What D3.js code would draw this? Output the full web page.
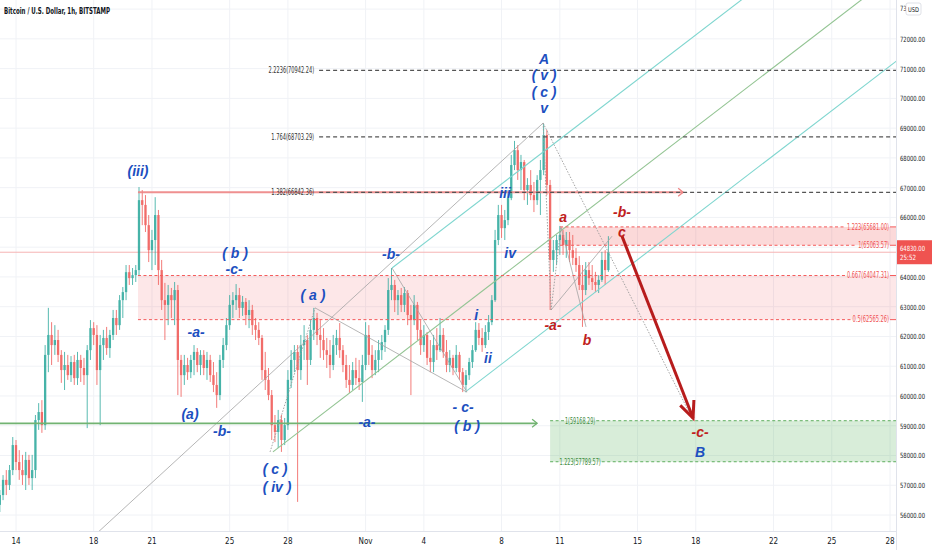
<!DOCTYPE html>
<html>
<head>
<meta charset="utf-8">
<script src="https://cdn.jsdelivr.net/npm/d3@7"></script>
<style>
body { margin: 0; background: #fff; }
svg { display: block; font-family: "Liberation Sans Narrow", "DejaVu Sans Condensed", "Liberation Sans", sans-serif; }
.ew { font-family: "Liberation Sans", Arial, sans-serif; font-style: italic; font-weight: bold; font-size: 14px; }
</style>
</head>
<body>
<script>
// 4h candles, first one opens Oct 13 04:00
var opens = [
 56340,56670,57180,57010,57510,58350, 57780,57510,57340,57850,57240,57510,
 59190,59460,59020,61380,62050,61710, 61880,61380,60870,61040,60700,61140,
 60600,61210,60940,60700,61540,62280, 62050,60870,61710,61950,61610,62050,
 62620,62380,63220,63490,64160,63960, 64060,64230,66580,66420,65740,64900,
 65240,66080,64230,63220,63060,63390, 63220,63560,61210,60700,61040,60800,
 61210,61480,61040,61380,60940,61210, 60700,60370,60030,61210,61710,62380,
 63060,63220,63390,62960,63160,62720, 62890,62380,62220,61950,60870,60540,
 60030,59020,58790,59190,58520,59020, 60540,61210,61480,60870,61710,61880,
 61210,62220,62620,62050,61880,61540, 61380,61040,61710,61950,61540,61040,
 60540,60370,60870,60600,60470,61040, 62050,61380,60870,61210,61540,61810,
 62220,63560,63730,63220,63390,63060, 63460,62720,62550,63060,62220,61710,
 62050,61280,61140,61710,61540,62050, 61480,61040,61280,60940,61380,60800,
 60370,60700,61140,61540,62220,61950, 61710,62150,62480,63220,65240,66080,
 65640,65910,66650,67760,68260,67590, 67860,66920,67090,66750,66580,67260,
 67590,68770,67090,64570,64900,65240, 65410,65070,65240,64900,64640,64400,
 63730,63560,64230,63960,63830,63730, 63900,64570,64230
];
var highs = [
 56840,57340,57510,57680,58620,58520, 58180,58020,58120,58020,58020,59360,
 59760,59860,61710,62960,62480,62380, 62220,61540,61480,61380,61340,61380,
 61480,61380,61280,61710,62550,62480, 62380,62050,62220,62320,62220,62890,
 62890,63390,63660,64400,64400,64300, 64400,67020,66920,66750,66080,65580,
 66680,66250,64570,63800,63730,63630, 63830,63730,61380,61380,61280,61380,
 61710,61610,61540,61540,61480,61380, 61140,60800,61380,61950,62620,63390,
 63490,63760,63630,63360,63290,63220, 63060,62620,62480,62050,61480,60940,
 60200,59360,59530,59360,59260,60870, 61540,61710,61710,62050,62380,62050,
 62550,62960,62790,62550,62280,61950, 61880,62050,62220,62450,61710,61380,
 61040,61140,61280,61210,61380,62480, 62380,61710,61540,61880,62050,62380,
 63960,64300,63900,63560,63630,63660, 63560,63060,63390,63160,62550,62380,
 62150,61880,62050,62280,62620,62280, 61880,61540,61380,61710,61480,60940,
 60870,61280,61710,62480,62450,62280, 62380,62720,63390,65580,66420,66420,
 66250,66920,68100,68570,68430,68100, 67930,67320,67590,67190,67420,67930,
 69140,68940,67260,65240,65410,65710, 65580,65510,65510,65410,64970,64700,
 64400,64500,64500,64400,64170,64060, 64840,64900,65370
];
var lows = [
 56100,56500,56670,56840,57340,57510, 57180,57010,56840,57010,56840,57240,
 58860,58760,58860,60800,61040,61380, 61140,60440,60200,60540,60470,60370,
 60370,60470,60370,58920,61210,61710, 60370,59020,61210,61380,61280,61880,
 62050,62220,62620,63220,63730,63730, 63830,64060,65740,65510,64500,64230,
 64400,63730,62890,61880,62380,62620, 62380,60030,59970,60370,60540,60600,
 60700,60800,60700,60700,60540,60470, 60130,59600,59860,60940,61540,62220,
 62620,62890,62620,62690,62380,62280, 62050,61880,61710,60540,60200,59860,
 58520,58450,58250,58120,58350,58860, 60270,60800,56440,60540,61210,60370,
 61040,61880,61710,61280,61210,60940, 60600,60870,61380,61280,60800,60270,
 60100,60200,60370,60200,59800,60870, 61040,60600,60700,60800,61210,61480,
 62050,63220,62820,62720,62820,62820, 62380,60030,62380,61880,61380,61480,
 61040,60800,60800,61210,61480,61280, 60800,60800,60700,60800,60540,60130,
 60200,60540,60940,61480,61710,61480, 61610,61880,62380,63160,65070,65310,
 65240,65740,66580,67590,67260,66920, 66580,66420,66580,66180,66420,66080,
 67420,66750,62890,64170,64400,64740, 64740,64640,64500,64400,64170,63560,
 62320,63390,63730,63560,63490,63460, 63830,63730,64170
];
var closes = [
 56670,57180,57010,57510,58350,57780, 57510,57340,57850,57240,57510,59190,
 59460,59020,61380,62050,61710,61880, 61380,60870,61040,60700,61140,60600,
 61210,60940,60700,61540,62280,62050, 60870,61710,61950,61610,62050,62620,
 62380,63220,63490,64160,63960,64060, 64230,66580,66420,65740,64900,65240,
 66080,64230,63220,63060,63390,63220, 63560,61210,60700,61040,60800,61210,
 61480,61040,61380,60940,61210,60700, 60370,60030,61210,61710,62380,63060,
 63220,63390,62960,63160,62720,62890, 62380,62220,61950,60870,60540,60030,
 59020,58790,59190,58520,59020,60540, 61210,61480,60870,61710,61880,61210,
 62220,62620,62050,61880,61540,61380, 61040,61710,61950,61540,61040,60540,
 60370,60870,60600,60470,61040,62050, 61380,60870,61210,61540,61810,62220,
 63560,63730,63220,63390,63060,63460, 62720,62550,63060,62220,61710,62050,
 61280,61140,61710,61540,62050,61480, 61040,61280,60940,61380,60800,60370,
 60700,61140,61540,62220,61950,61710, 62150,62480,63220,65240,66080,65640,
 65910,66650,67760,68260,67590,67860, 66920,67090,66750,66580,67260,67590,
 68770,67090,64570,64900,65240,65410, 65070,65240,64900,64640,64400,63730,
 63560,64230,63960,63830,63730,63900, 64570,64230,64830
];

// date axis
var tickDates = ["2021-10-14","2021-10-18","2021-10-21","2021-10-25","2021-10-28","2021-11-01","2021-11-04",
                 "2021-11-08","2021-11-11","2021-11-15","2021-11-18","2021-11-22","2021-11-25","2021-11-28"];
var tickLabels = ["14","18","21","25","28","Nov","4","8","11","15","18","22","25","28"];
var priceTicks = [56000,57000,58000,59000,60000,61000,62000,63000,64000,65000,66000,67000,68000,69000,70000,71000,72000];
var topTick = 73000;
var lastPrice = 64830;

// fib levels [ratio, price]
var fibExt = [["2.2236",70942.24],["1.764",68703.29],["1.382",66842.36]];
var fibRed = [["1.223",65681.00],["1",65063.57],["0.667",64047.31],["0.5",62565.26]];
var fibGreen = [["1",59168.29],["1.223",57789.57]];

// drawings, points as [days after Oct 14, price]
var tealLines = [[[19.36,64300],[45.4,77340]], [[23.12,60130],[45.4,71290]]];
var medianLine = [[13.23,58120],[45.4,74250]];
var grayLines = [
  [[4.07,55330],[27.14,69170]],
  [[15.40,62960],[23.22,60130]],
  [[19.36,64300],[23.22,60130]],
  [[28.06,65680],[29.35,62320]],
  [[27.55,62890],[30.69,65370]]
];
var dottedLines = [
  [[13.08,58120],[15.40,62960]],
  [[27.14,69170],[34.86,59190]],
  [[27.14,69170],[27.55,62890]],
  [[27.55,62890],[28.06,65680]]
];
var redLevelLine = [[6.28,66842.36],[34.35,66842.36]];
var greenLevelLine = [[-2,59080],[26.83,59080]];
var bigArrow = [[31.20,65370],[34.86,59260]];
var pinkZoneStart = 6.28, pinkUpperStart = 28.01, greenZoneStart = 27.50, fibExtStart = 15.40;

// Elliott wave labels [text, day, price]
var blueLabels = [
  ["(iii)",6.28,67560],["( b )",11.28,64800],["-c-",11.23,64270],["-a-",9.27,62150],
  ["(a)",8.96,59390],["-b-",10.61,58820],["( a )",15.29,63390],["( c )",13.34,57550],
  ["( iv )",13.44,56940],["-b-",19.31,64770],["-a-",18.07,59120],["- c-",23.02,59640],
  ["( b )",23.22,58980],["i",23.69,62720],["ii",24.30,61280],["iii",25.18,66820],
  ["iv",25.44,64800],["A",27.19,71320],["( v )",27.19,70780],["( c )",27.19,70210],
  ["v",27.19,69680],["B",35.22,58120]
];
var redLabels = [
  ["a",28.17,66010],["-b-",31.20,66180],["c",31.20,65510],["-a-",27.65,62380],
  ["b",29.40,61880],["-c-",35.22,58790]
];

window.onload = function(){
    var W = 932, H = 550, right = 896, bottom = 531;
    var parse = d3.timeParse("%Y-%m-%d");
    var t0 = new Date(2021, 9, 14);
    var candleStart = new Date(2021, 9, 13, 4);
    function atDay(d){ return new Date(t0.getTime() + d * 864e5); }

    var x = d3.scaleTime()
        .domain([parse("2021-10-14"), parse("2021-11-28")])
        .range([16, 890]);
    var y = d3.scaleLinear()
        .domain([56000, 73000])
        .range([515, 9.1]);
    function px(p){ return x(atDay(p[0])); }
    function py(p){ return y(p[1]); }

    var svg = d3.select("body").append("svg")
        .attr("width", W)
        .attr("height", H);

    var defs = svg.append("defs");
    defs.append("clipPath").attr("id", "plot")
        .append("rect").attr("x", 0).attr("y", 0).attr("width", right).attr("height", bottom);
    defs.append("clipPath").attr("id", "usd")
        .append("rect").attr("x", 896).attr("y", 0).attr("width", 10).attr("height", 20);

    // grid
    svg.append("g").selectAll("line")
        .data(priceTicks.concat([topTick]))
        .enter().append("line")
        .attr("x1", 0).attr("x2", right)
        .attr("y1", function(d){ return y(d); })
        .attr("y2", function(d){ return y(d); })
        .style("stroke", "#f0f2f6");
    svg.append("g").selectAll("line")
        .data(tickDates)
        .enter().append("line")
        .attr("x1", function(d){ return x(parse(d)); })
        .attr("x2", function(d){ return x(parse(d)); })
        .attr("y1", 0).attr("y2", bottom)
        .style("stroke", "#f0f2f6");

    var plot = svg.append("g").attr("clip-path", "url(#plot)");

    // zones
    var zones = plot.append("g");
    zones.append("rect")      // 0.5 - 0.667
        .attr("x", x(atDay(pinkZoneStart))).attr("width", right - x(atDay(pinkZoneStart)))
        .attr("y", y(fibRed[2][1])).attr("height", y(fibRed[3][1]) - y(fibRed[2][1]))
        .style("fill", "rgba(242,54,69,0.12)");
    zones.append("rect")      // 1 - 1.223
        .attr("x", x(atDay(pinkUpperStart))).attr("width", right - x(atDay(pinkUpperStart)))
        .attr("y", y(fibRed[0][1])).attr("height", y(fibRed[1][1]) - y(fibRed[0][1]))
        .style("fill", "rgba(236,64,64,0.2)");
    zones.append("rect")
        .attr("x", x(atDay(greenZoneStart))).attr("width", right - x(atDay(greenZoneStart)))
        .attr("y", y(fibGreen[0][1])).attr("height", y(fibGreen[1][1]) - y(fibGreen[0][1]))
        .style("fill", "rgba(76,175,80,0.22)");

    // last price line
    plot.append("line")
        .attr("x1", 0).attr("x2", right)
        .attr("y1", y(lastPrice)).attr("y2", y(lastPrice))
        .style("stroke", "#f6b3b3").style("stroke-width", 1);

    // candles
    var candles = d3.range(opens.length).map(function(i){
        return { t: new Date(candleStart.getTime() + i * 4 * 3600e3),
                 o: opens[i], h: highs[i], l: lows[i], c: closes[i] };
    });
    var cg = plot.append("g").style("opacity", 0.85);
    var cs = cg.selectAll(".candle")
        .data(candles)
        .enter().append("g")
        .attr("class", "candle");
    cs.append("line")
        .attr("x1", function(d){ return x(d.t); })
        .attr("x2", function(d){ return x(d.t); })
        .attr("y1", function(d){ return y(d.h); })
        .attr("y2", function(d){ return y(d.l); })
        .style("stroke", function(d){ return d.c >= d.o ? "#26a69a" : "#ef5350"; })
        .style("stroke-width", 0.9);
    cs.append("rect")
        .attr("x", function(d){ return x(d.t) - 1.15; })
        .attr("width", 2.3)
        .attr("y", function(d){ return y(Math.max(d.o, d.c)); })
        .attr("height", function(d){ return Math.max(1, Math.abs(y(d.o) - y(d.c))); })
        .style("fill", function(d){ return d.c >= d.o ? "#26a69a" : "#ef5350"; });

    // pitchfork and wave lines
    var lines = plot.append("g");
    function seg(p, color, w, dash){
        lines.append("line")
            .attr("x1", px(p[0])).attr("y1", py(p[0]))
            .attr("x2", px(p[1])).attr("y2", py(p[1]))
            .style("stroke", color).style("stroke-width", w)
            .style("stroke-dasharray", dash || null);
    }
    tealLines.forEach(function(p){ seg(p, "#7fd6cf", 1.1); });
    seg(medianLine, "#93c493", 1.1);
    grayLines.forEach(function(p){ seg(p, "#a3a3a3", 0.8); });
    dottedLines.forEach(function(p){ seg(p, "#9a9a9a", 0.9, "1.5,1.5"); });

    // fib extension lines
    var fibG = plot.append("g");
    fibExt.forEach(function(f){
        var xs = x(atDay(fibExtStart));
        fibG.append("line")
            .attr("x1", xs + 4).attr("x2", right)
            .attr("y1", y(f[1])).attr("y2", y(f[1]))
            .style("stroke", "#555").style("stroke-width", 1.2).style("stroke-dasharray", "4,3");
    });

    // red 1.382 horizontal with arrow
    var rl0 = [px(redLevelLine[0]), py(redLevelLine[0])], rl1 = [px(redLevelLine[1]), py(redLevelLine[1])];
    plot.append("line").attr("x1", rl0[0]).attr("y1", rl0[1]).attr("x2", rl1[0]).attr("y2", rl1[1])
        .style("stroke", "#ee8585").style("stroke-width", 2).style("opacity", 0.9);
    plot.append("path").attr("d", "M" + (rl1[0] - 5) + "," + (rl1[1] - 4) + "L" + rl1[0] + "," + rl1[1] + "L" + (rl1[0] - 5) + "," + (rl1[1] + 4))
        .style("fill", "none").style("stroke", "#ee8585").style("stroke-width", 1.3);
    fibG.raise();

    // green horizontal with arrow
    var gl1 = [px(greenLevelLine[1]), py(greenLevelLine[1])];
    plot.append("line").attr("x1", px(greenLevelLine[0])).attr("y1", py(greenLevelLine[0]))
        .attr("x2", gl1[0]).attr("y2", gl1[1])
        .style("stroke", "#72b372").style("stroke-width", 1.8);
    plot.append("path").attr("d", "M" + (gl1[0] - 5) + "," + (gl1[1] - 4) + "L" + gl1[0] + "," + gl1[1] + "L" + (gl1[0] - 5) + "," + (gl1[1] + 4))
        .style("fill", "none").style("stroke", "#72b372").style("stroke-width", 1.3);

    // fib extension labels
    fibExt.forEach(function(f){
        var s = f[0] + "(" + f[1].toFixed(2) + ")";
        svg.append("text")
            .attr("x", x(atDay(fibExtStart)) - 1)
            .attr("y", y(f[1]) + 2.8)
            .attr("text-anchor", "end")
            .attr("textLength", s.length * 2.85)
            .attr("lengthAdjust", "spacingAndGlyphs")
            .style("font-size", "8px").style("fill", "#333")
            .text(s);
    });

    // red fib levels: dashed lines broken by label
    fibRed.forEach(function(f, i){
        var s = f[0] + "(" + f[1].toFixed(2) + ")";
        var w = s.length * 2.8;
        var xe = right - 7;
        var xs = x(atDay(i < 2 ? pinkUpperStart : pinkZoneStart));
        plot.append("line").attr("x1", xs).attr("x2", xe - w - 2)
            .attr("y1", y(f[1])).attr("y2", y(f[1]))
            .style("stroke", "#f45b5b").style("stroke-dasharray", "3,2.5");
        plot.append("line").attr("x1", xe + 1).attr("x2", right)
            .attr("y1", y(f[1])).attr("y2", y(f[1]))
            .style("stroke", "#f45b5b");
        svg.append("text")
            .attr("x", xe).attr("y", y(f[1]) + 2.8)
            .attr("text-anchor", "end")
            .attr("textLength", w).attr("lengthAdjust", "spacingAndGlyphs")
            .style("font-size", "8px").style("fill", "#f05050")
            .text(s);
    });

    // green fib levels
    fibGreen.forEach(function(f){
        var s = f[0] + "(" + f[1].toFixed(2) + ")";
        var w = s.length * 2.75;
        var xs = x(atDay(greenZoneStart));
        var xc = xs + 30;
        plot.append("line").attr("x1", xs).attr("x2", xc - w / 2 - 1)
            .attr("y1", y(f[1])).attr("y2", y(f[1]))
            .style("stroke", "#5fae5f").style("stroke-dasharray", "3,2.5");
        plot.append("line").attr("x1", xc + w / 2 + 1).attr("x2", right)
            .attr("y1", y(f[1])).attr("y2", y(f[1]))
            .style("stroke", "#5fae5f").style("stroke-dasharray", "3,2.5");
        svg.append("text")
            .attr("x", xc).attr("y", y(f[1]) + 2.8)
            .attr("text-anchor", "middle")
            .attr("textLength", w).attr("lengthAdjust", "spacingAndGlyphs")
            .style("font-size", "8px").style("fill", "#3d8b40")
            .text(s);
    });

    // big red projection arrow
    var a0 = [px(bigArrow[0]), py(bigArrow[0])], a1 = [px(bigArrow[1]), py(bigArrow[1])];
    var ang = Math.atan2(a1[1] - a0[1], a1[0] - a0[0]);
    var hl = 18;
    plot.append("line").attr("x1", a0[0]).attr("y1", a0[1]).attr("x2", a1[0]).attr("y2", a1[1])
        .style("stroke", "#b71c1c").style("stroke-width", 3);
    plot.append("path")
        .attr("d", "M" + (a1[0] - hl * Math.cos(ang - 0.42)) + "," + (a1[1] - hl * Math.sin(ang - 0.42)) +
                   "L" + a1[0] + "," + a1[1] +
                   "L" + (a1[0] - hl * Math.cos(ang + 0.42)) + "," + (a1[1] - hl * Math.sin(ang + 0.42)))
        .style("fill", "none").style("stroke", "#b71c1c").style("stroke-width", 3)
        .style("stroke-linejoin", "miter");

    // wave labels
    svg.append("g").selectAll("text")
        .data(blueLabels)
        .enter().append("text")
        .attr("class", "ew")
        .attr("x", function(d){ return x(atDay(d[1])); })
        .attr("y", function(d){ return y(d[2]) + 5; })
        .attr("text-anchor", "middle")
        .style("fill", "#1c4fc0")
        .text(function(d){ return d[0]; });
    svg.append("g").selectAll("text")
        .data(redLabels)
        .enter().append("text")
        .attr("class", "ew")
        .attr("x", function(d){ return x(atDay(d[1])); })
        .attr("y", function(d){ return y(d[2]) + 5; })
        .attr("text-anchor", "middle")
        .style("fill", "#c0201c")
        .text(function(d){ return d[0]; });

    // axes frame
    svg.append("line").attr("x1", right + 0.5).attr("x2", right + 0.5).attr("y1", 0).attr("y2", H)
        .style("stroke", "#e0e3eb");
    svg.append("line").attr("x1", 0).attr("x2", right).attr("y1", bottom + 0.5).attr("y2", bottom + 0.5)
        .style("stroke", "#e0e3eb");

    // price axis
    svg.append("g").selectAll("text")
        .data(priceTicks)
        .enter().append("text")
        .attr("x", 900)
        .attr("y", function(d){ return y(d) + 3; })
        .attr("textLength", 25).attr("lengthAdjust", "spacingAndGlyphs")
        .style("font-size", "7.2px").style("fill", "#131722")
        .text(function(d){ return d3.format(".2f")(d); });
    // top tick is mostly hidden behind the currency badge
    svg.append("text")
        .attr("x", 900).attr("y", y(topTick) + 2)
        .attr("clip-path", "url(#usd)")
        .attr("textLength", 25).attr("lengthAdjust", "spacingAndGlyphs")
        .style("font-size", "7.2px").style("fill", "#131722")
        .text(d3.format(".2f")(topTick));

    // USD badge
    svg.append("rect").attr("x", 906).attr("y", 3).attr("width", 15).attr("height", 12).attr("rx", 2)
        .style("fill", "#fff").style("stroke", "#d1d4dc").style("stroke-width", 0.7);
    svg.append("text").attr("x", 913.5).attr("y", 12).attr("text-anchor", "middle")
        .attr("textLength", 11).attr("lengthAdjust", "spacingAndGlyphs")
        .style("font-size", "6.5px").style("fill", "#131722").text("USD");

    // last price tag
    var ly = y(lastPrice);
    svg.append("rect").attr("x", right + 1).attr("y", ly - 12).attr("width", W - right - 1).attr("height", 24)
        .style("fill", "#ef5350");
    svg.append("text").attr("x", 900).attr("y", ly - 1)
        .attr("textLength", 25).attr("lengthAdjust", "spacingAndGlyphs")
        .style("font-size", "7.2px").style("fill", "#fff").text(d3.format(".2f")(lastPrice));
    svg.append("text").attr("x", 900).attr("y", ly + 8)
        .attr("textLength", 16).attr("lengthAdjust", "spacingAndGlyphs")
        .style("font-size", "7.2px").style("fill", "#fff").text("25:52");

    // date axis
    svg.append("g").selectAll("text")
        .data(tickDates)
        .enter().append("text")
        .attr("x", function(d){ return x(parse(d)); })
        .attr("y", 544)
        .attr("text-anchor", "middle")
        .style("font-size", "8px").style("fill", "#131722")
        .text(function(d, i){ return tickLabels[i]; });

    // title
    svg.append("text").attr("x", 4).attr("y", 14)
        .attr("textLength", 106).attr("lengthAdjust", "spacingAndGlyphs")
        .style("font-size", "8.5px").style("font-weight", "bold").style("fill", "#131722")
        .text("Bitcoin / U.S. Dollar, 1h, BITSTAMP");
};
</script>
</body>
</html>
